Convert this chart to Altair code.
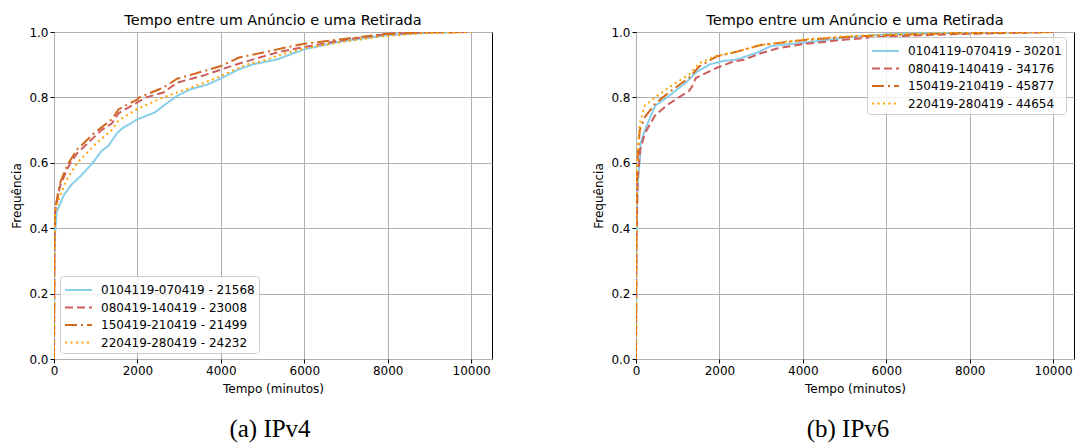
import altair as alt
import pandas as pd

# ---------------- data ----------------
names_v4 = ["0104119-070419 - 21568", "080419-140419 - 23008",
            "150419-210419 - 21499", "220419-280419 - 24232"]
names_v6 = ["0104119-070419 - 30201", "080419-140419 - 34176",
            "150419-210419 - 45877", "220419-280419 - 44654"]
colors = ["#87CEEB", "#CD5C5C", "#D2691E", "#FFA500"]
dashes = [[1, 0], [8, 4], [12, 4, 2, 4], [2, 3.5]]

x_ticks = [0, 2000, 4000, 6000, 8000, 10000]
y_ticks = [0.0, 0.2, 0.4, 0.6, 0.8, 1.0]

# IPv4 panel (minutes, cumulative frequency)
v4_blue_t = [0, 10, 25, 66, 230, 396, 643, 930, 1138, 1302, 1509, 1632, 2000, 2415, 2621, 2951, 3281, 3693, 4000, 4435, 4765, 5342, 6000, 6908, 7980, 8970, 10000]
v4_blue_f = [0, 0.30, 0.38, 0.45, 0.50, 0.53, 0.56, 0.60, 0.636, 0.652, 0.69, 0.705, 0.733, 0.754, 0.774, 0.805, 0.825, 0.840, 0.858, 0.886, 0.901, 0.916, 0.947, 0.972, 0.990, 0.998, 1.0]
v4_red_t = [0, 10, 25, 148, 313, 396, 560, 973, 1138, 1385, 1550, 2000, 2210, 2621, 2951, 3611, 4000, 4350, 5012, 5424, 5840, 6908, 7980, 8970, 10000]
v4_red_f = [0, 0.35, 0.45, 0.53, 0.58, 0.60, 0.63, 0.68, 0.70, 0.72, 0.752, 0.785, 0.80, 0.815, 0.845, 0.868, 0.885, 0.90, 0.925, 0.94, 0.95, 0.975, 0.994, 0.999, 1.0]
v4_orange_t = [0, 10, 25, 148, 313, 355, 560, 973, 1055, 1385, 1550, 2000, 2045, 2621, 2951, 3611, 4000, 4435, 5012, 5424, 6000, 6908, 7980, 8970, 10000]
v4_orange_f = [0, 0.38, 0.46, 0.54, 0.59, 0.60, 0.642, 0.692, 0.70, 0.733, 0.764, 0.794, 0.80, 0.83, 0.857, 0.881, 0.896, 0.922, 0.937, 0.949, 0.964, 0.978, 0.995, 0.999, 1.0]
v4_yellow_t = [0, 10, 25, 148, 313, 560, 973, 1385, 1550, 2000, 2620, 2951, 3611, 4000, 4600, 5012, 5424, 6000, 6908, 7980, 8970, 10000]
v4_yellow_f = [0, 0.33, 0.45, 0.50, 0.55, 0.60, 0.655, 0.70, 0.73, 0.765, 0.80, 0.815, 0.845, 0.865, 0.90, 0.912, 0.93, 0.95, 0.97, 0.988, 0.997, 1.0]

# IPv6 panel
v6_blue_t = [0, 10, 30, 49, 100, 110, 212, 457, 784, 1193, 1438, 1765, 2091, 2418, 2908, 3235, 4000, 5033, 6013, 7500, 10000]
v6_blue_f = [0, 0.35, 0.50, 0.55, 0.62, 0.66, 0.70, 0.774, 0.804, 0.845, 0.876, 0.901, 0.911, 0.916, 0.937, 0.957, 0.967, 0.983, 0.993, 0.997, 1.0]
v6_red_t = [0, 10, 40, 100, 212, 457, 784, 1275, 1350, 1438, 1928, 2337, 2582, 2990, 3399, 4000, 5033, 5850, 7500, 10000]
v6_red_f = [0, 0.35, 0.55, 0.64, 0.69, 0.745, 0.78, 0.82, 0.835, 0.86, 0.89, 0.91, 0.915, 0.935, 0.95, 0.963, 0.977, 0.985, 0.993, 1.0]
v6_orange_t = [0, 10, 30, 90, 212, 457, 784, 1275, 1520, 1928, 2418, 2990, 4000, 5033, 6013, 7500, 10000]
v6_orange_f = [0, 0.45, 0.60, 0.70, 0.74, 0.78, 0.815, 0.86, 0.895, 0.925, 0.94, 0.96, 0.975, 0.985, 0.99, 0.996, 1.0]
v6_yellow_t = [0, 10, 30, 90, 212, 457, 784, 1275, 1520, 1928, 2418, 2990, 4000, 5033, 6013, 7500, 10000]
v6_yellow_f = [0, 0.50, 0.62, 0.72, 0.775, 0.80, 0.83, 0.87, 0.905, 0.927, 0.94, 0.96, 0.977, 0.987, 0.992, 0.997, 1.0]

title_text = "Tempo entre um Anúncio e uma Retirada"


def build_df(names, series):
    rows = []
    for name, (ts, fs) in zip(names, series):
        for i, (t, f) in enumerate(zip(ts, fs)):
            rows.append({"s": name, "t": t, "f": f, "i": i})
    return pd.DataFrame(rows)


def panel(names, series, lx, ly, caption, cap_x):
    df = build_df(names, series)
    leg = alt.Legend(
        title=None, orient="none", legendX=lx, legendY=ly,
        symbolType="M-1,0H2", symbolSize=324, symbolStrokeWidth=2,
        labelOffset=17, labelFontSize=12, labelFont="DejaVu Sans",
        labelColor="black", padding=4, rowPadding=1.5,
        fillColor="rgba(255,255,255,0.8)", strokeColor="#cccccc",
        cornerRadius=3,
    )
    lines = alt.Chart(df).mark_line(strokeWidth=2, clip=True).encode(
        x=alt.X("t:Q", scale=alt.Scale(domain=[0, 10500], nice=False),
                axis=alt.Axis(values=x_ticks, format="d", title="Tempo (minutos)",
                              labelFlush=False, labelOverlap=False)),
        y=alt.Y("f:Q", scale=alt.Scale(domain=[0, 1], nice=False),
                axis=alt.Axis(values=y_ticks, format=".1f", title="Frequência")),
        color=alt.Color("s:N", scale=alt.Scale(domain=names, range=colors), legend=leg),
        strokeDash=alt.StrokeDash("s:N", scale=alt.Scale(domain=names, range=dashes), legend=leg),
        order=alt.Order("i:Q"),
    )
    cap = alt.Chart(pd.DataFrame({"c": [caption]})).mark_text(
        font="Liberation Serif", fontSize=25, align="center", baseline="middle", color="black"
    ).encode(text="c:N", x=alt.value(cap_x), y=alt.value(397))
    return alt.layer(lines, cap).properties(width=438, height=327, title=title_text)


left = panel(names_v4,
             [(v4_blue_t, v4_blue_f), (v4_red_t, v4_red_f), (v4_orange_t, v4_orange_f), (v4_yellow_t, v4_yellow_f)],
             6, 244, "(a) IPv4", 216)
right = panel(names_v6,
              [(v6_blue_t, v6_blue_f), (v6_red_t, v6_red_f), (v6_orange_t, v6_orange_f), (v6_yellow_t, v6_yellow_f)],
              231, 5, "(b) IPv6", 212)

chart = alt.hconcat(left, right, spacing=99).resolve_scale(
    color="independent", strokeDash="independent"
).resolve_legend(
    color="independent", strokeDash="independent"
).properties(
    padding={"left": 10, "top": 12, "right": 0, "bottom": 0}
).configure_view(
    stroke="black", strokeWidth=1
).configure_axis(
    grid=True, gridColor="#b0b0b0", gridWidth=1, domain=False,
    tickColor="black", tickSize=4, labelPadding=2,
    labelFontSize=12, labelFont="DejaVu Sans", labelColor="black",
    titleFontSize=12, titleFont="DejaVu Sans", titleFontWeight="normal", titleColor="black",
).configure_axisX(titlePadding=7).configure_axisY(titlePadding=5).configure_title(
    fontSize=14.5, font="DejaVu Sans", fontWeight="normal", color="black", offset=-2
)

chart.save("out.html", embed_options={"renderer": "svg", "actions": False})
